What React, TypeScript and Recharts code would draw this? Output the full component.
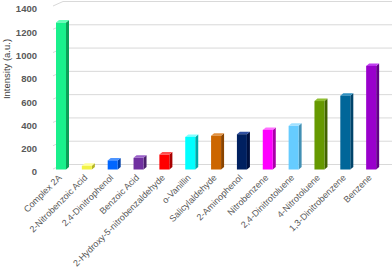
import { Bar, BarChart, CartesianGrid, XAxis, YAxis } from 'recharts'

const categories = [
  'Complex 2A',
  '2-Nitrobenzoic Acid',
  '2,4-Dinitrophenol',
  'Benzoic Acid',
  '2-Hydroxy-5-nitrobenzaldehyde',
  'o-Vanillin',
  'Salicylaldehyde',
  '2-Aminophenol',
  'Nitrobenzene',
  '2,4-Dinitrotoluene',
  '4-Nitrotoluene',
  '1,3-Dinitrobenzene',
  'Benzene',
]
const intensity = [1262, 32, 78, 100, 128, 280, 290, 303, 340, 375, 588, 634, 890]
const yTicks = [0, 200, 400, 600, 800, 1000, 1200, 1400]

const frontColors = [
  '#19f08c', '#f2f244', '#0066ff', '#7030a0', '#ff0000', '#00ffff', '#cc6600',
  '#002060', '#ff00ff', '#66ccff', '#669900', '#006699', '#9900cc',
]
const sideColors = [
  '#0c9e58', '#b4b424', '#0040a8', '#4a1f6c', '#a80000', '#00a8a8', '#8a4400',
  '#00103e', '#a800a8', '#4290b4', '#426300', '#00446a', '#630088',
]
const topColors = [
  '#66ffb8', '#ffff99', '#4d94ff', '#9a60c8', '#ff5050', '#80ffff', '#e09040',
  '#3050a0', '#ff70ff', '#a0e0ff', '#90c030', '#3090c0', '#c040f0',
]

const data = categories.map((name, i) => ({ name, value: intensity[i] }))

const DX = 3
const DY = 2.5
const LIFT = 2.5

function Bar3D(props: any) {
  const { x, y, width, height, index } = props
  if (height == null) return null
  const top = y - LIFT
  const bot = y + height - LIFT
  const r = x + width
  return (
    <g>
      <polygon
        points={`${r},${top} ${r + DX},${top - DY} ${r + DX},${bot - DY} ${r},${bot}`}
        fill={sideColors[index]}
      />
      <polygon
        points={`${x},${top} ${x + DX},${top - DY} ${r + DX},${top - DY} ${r},${top}`}
        fill={topColors[index]}
      />
      <rect x={x} y={top} width={width} height={bot - top} fill={frontColors[index]} />
    </g>
  )
}

function GridLine(props: any) {
  const { x1, y1, key } = props
  const back = y1 - 7.5
  return (
    <g key={key}>
      <line x1={x1 + 5} y1={y1 - 3} x2={x1 + 15} y2={back} stroke="#d9d9d9" strokeWidth={1} />
      <line x1={x1 + 15} y1={back} x2={392} y2={back} stroke="#d9d9d9" strokeWidth={1} />
    </g>
  )
}

function XTick(props: any) {
  const { x, y, payload } = props
  return (
    <text
      transform={`translate(${x - 1},${y - 4}) rotate(-45)`}
      textAnchor="end"
      dy="0.35em"
      fontSize={9}
      fill="#595959"
    >
      {payload.value}
    </text>
  )
}

function YTitle() {
  return (
    <text
      transform="translate(10,69) rotate(-90)"
      textAnchor="middle"
      fontSize={9.5}
      fill="#404040"
    >
      Intensity (a.u.)
    </text>
  )
}

export default function App() {
  return (
    <div style={{ position: 'absolute', left: 0, top: 0, fontFamily: '"Liberation Sans", Arial, sans-serif' }}>
      <BarChart
        width={392}
        height={270}
        data={data}
        margin={{ top: 9, right: 8, bottom: 0, left: 0 }}
        barSize={10}
      >
        <CartesianGrid vertical={false} horizontal={(p: any) => <GridLine {...p} />} />
        <XAxis
          dataKey="name"
          interval={0}
          height={98}
          axisLine={false}
          tickLine={false}
          tick={<XTick />}
        />
        <YAxis
          width={48}
          domain={[0, 1400]}
          ticks={yTicks}
          axisLine={false}
          tickLine={false}
          tickSize={0}
          tickMargin={11}
          tick={{ fontSize: 9.5, fontWeight: 'bold', fill: '#595959' }}
          label={{ content: () => <YTitle /> }}
        />
        <Bar dataKey="value" isAnimationActive={false} shape={<Bar3D />} />
      </BarChart>
    </div>
  )
}
